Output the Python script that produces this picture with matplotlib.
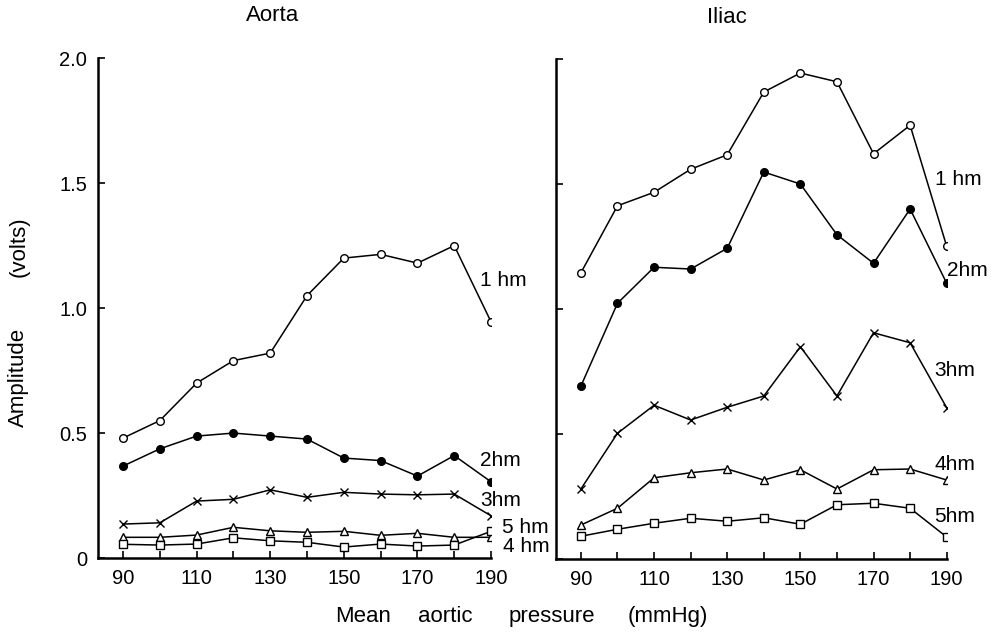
import matplotlib
matplotlib.use("Agg")
import matplotlib.pyplot as plt

plt.rcParams["font.family"] = ["Liberation Sans", "DejaVu Sans"]

# presion media aortica (mmHg)
presion = [90, 100, 110, 120, 130, 140, 150, 160, 170, 180, 190]

# amplitud de cada armonico en la aorta (volts)
aorta_1hm = [0.48, 0.55, 0.70, 0.79, 0.82, 1.05, 1.20, 1.215, 1.18, 1.25, 0.945]
aorta_2hm = [0.368, 0.437, 0.488, 0.50, 0.488, 0.476, 0.40, 0.39, 0.328, 0.41, 0.305]
aorta_3hm = [0.136, 0.141, 0.228, 0.235, 0.273, 0.243, 0.263, 0.256, 0.253, 0.256, 0.169]
aorta_4hm = [0.083, 0.083, 0.092, 0.123, 0.109, 0.103, 0.107, 0.091, 0.099, 0.083, 0.083]
aorta_5hm = [0.055, 0.052, 0.056, 0.081, 0.069, 0.063, 0.044, 0.056, 0.048, 0.052, 0.107]

# amplitud de cada armonico en la iliaca (volts)
iliaca_1hm = [1.145, 1.413, 1.467, 1.559, 1.617, 1.868, 1.944, 1.909, 1.621, 1.735, 1.251]
iliaca_2hm = [0.692, 1.023, 1.167, 1.16, 1.243, 1.548, 1.50, 1.297, 1.183, 1.40, 1.103]
iliaca_3hm = [0.28, 0.503, 0.615, 0.556, 0.607, 0.652, 0.849, 0.652, 0.905, 0.865, 0.605]
iliaca_4hm = [0.136, 0.203, 0.325, 0.345, 0.36, 0.316, 0.357, 0.28, 0.357, 0.36, 0.316]
iliaca_5hm = [0.091, 0.119, 0.143, 0.163, 0.151, 0.165, 0.139, 0.217, 0.223, 0.203, 0.088]

etiquetas_y = ["0", "0.5", "1.0", "1.5", "2.0"]
valores_y = [0, 0.5, 1.0, 1.5, 2.0]

fig = plt.figure(figsize=(9.94, 6.32), dpi=100)
ax1 = fig.add_axes([0.0986, 0.117, 0.3954, 0.791])
ax2 = fig.add_axes([0.5594, 0.1155, 0.393, 0.7911])

estilo = dict(color="black", linewidth=1.1, markersize=5.5,
              markeredgewidth=1.0, markeredgecolor="black")


def dibujar(ax, s1, s2, s3, s4, s5):
    ax.plot(presion, s1, marker="o", markerfacecolor="white", **estilo)
    ax.plot(presion, s2, marker="o", markerfacecolor="black", **estilo)
    ax.plot(presion, s3, marker="x", **estilo)
    ax.plot(presion, s4, marker="^", markerfacecolor="white", **estilo)
    ax.plot(presion, s5, marker="s", markerfacecolor="white", **estilo)


def ejes(ax):
    ax.set_xlim(83.2, 190)
    ax.set_ylim(0, 2.0)
    ax.spines["top"].set_visible(False)
    ax.spines["right"].set_visible(False)
    ax.spines["left"].set_linewidth(1.8)
    ax.spines["bottom"].set_linewidth(1.8)
    ax.set_xticks(presion, minor=True)
    ax.set_xticks(presion[::2])
    ax.set_xticklabels([str(p) for p in presion[::2]], fontsize=14.5)
    ax.set_yticks(valores_y)
    ax.tick_params(direction="in", length=5, width=1.2, pad=8)
    ax.tick_params(which="minor", direction="in", length=5, width=1.2)


dibujar(ax1, aorta_1hm, aorta_2hm, aorta_3hm, aorta_4hm, aorta_5hm)
dibujar(ax2, iliaca_1hm, iliaca_2hm, iliaca_3hm, iliaca_4hm, iliaca_5hm)
ejes(ax1)
ejes(ax2)
ax1.set_yticklabels(etiquetas_y, fontsize=14.5)
ax2.set_yticklabels([])

# nombre de cada armonico al final de la curva
txt = dict(fontsize=15, va="center", ha="left", clip_on=False)
ax1.text(187.1, 1.11, "1 hm", **txt)
ax1.text(187.0, 0.392, "2hm", **txt)
ax1.text(187.0, 0.232, "3hm", **txt)
ax1.text(192.9, 0.124, "5 hm", **txt)
ax1.text(193.3, 0.048, "4 hm", **txt)

ax2.text(186.7, 1.52, "1 hm", **txt)
ax2.text(190.0, 1.156, "2hm", **txt)
ax2.text(186.7, 0.756, "3hm", **txt)
ax2.text(186.7, 0.379, "4hm", **txt)
ax2.text(186.7, 0.169, "5hm", **txt)

fig.text(0.274, 0.975, "Aorta", fontsize=16, ha="center", va="center")
fig.text(0.731, 0.973, "Iliac", fontsize=16, ha="center", va="center")

# titulo del eje x, palabra por palabra con separacion amplia
palabras_x = ["Mean", "aortic", "pressure", "(mmHg)"]
pos_x = [0.365, 0.448, 0.555, 0.672]
for p, xx in zip(palabras_x, pos_x):
    fig.text(xx, 0.024, p, fontsize=16, ha="center", va="center")

# titulo del eje y
fig.text(0.019, 0.403, "Amplitude", fontsize=16, rotation=90,
         ha="center", va="center")
fig.text(0.019, 0.609, "(volts)", fontsize=16, rotation=90,
         ha="center", va="center")

plt.savefig("out.png", dpi=100)
plt.close()
